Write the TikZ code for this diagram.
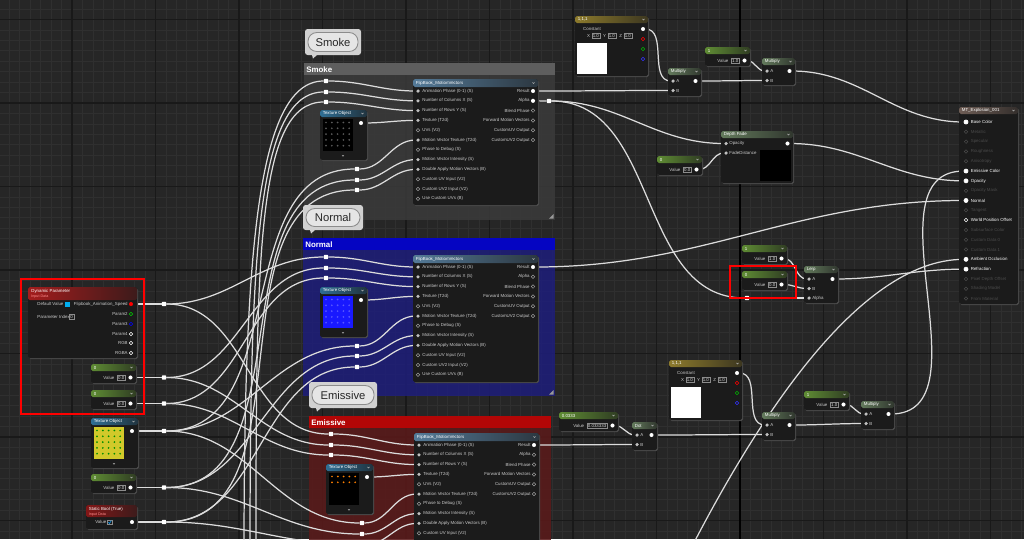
\documentclass[tikz,border=0pt]{standalone}
\usepackage{fontspec}
\setmainfont{Liberation Sans}
\usepackage{tikz}
\usetikzlibrary{backgrounds}
\definecolor{uecanvas}{HTML}{262626}
\definecolor{uegridmin}{HTML}{2F2F2F}
\definecolor{uegridmaj}{HTML}{191919}
\definecolor{uebg}{HTML}{1B1B1B}
\definecolor{uewire}{HTML}{DCDCDC}
\definecolor{uegreen}{HTML}{5F8C34}
\definecolor{ueop}{HTML}{637A5C}
\definecolor{uegold}{HTML}{8C7A2C}
\definecolor{uetexc}{HTML}{2F6E94}
\definecolor{ueflip}{HTML}{547A98}
\definecolor{uered}{HTML}{A31C1C}
\definecolor{uemat}{HTML}{6E5D55}
\definecolor{uedim}{HTML}{4A4A4A}
\definecolor{cmsmokeh}{HTML}{5E5E5E}
\definecolor{cmsmokeb}{HTML}{3A3A3A}
\definecolor{cmnormh}{HTML}{0505C2}
\definecolor{cmnormb}{HTML}{1E1E78}
\definecolor{cmemish}{HTML}{B30606}
\definecolor{cmemisb}{HTML}{5A1A1A}
\newcommand{\uefont}{\fontsize{2.5}{3}\selectfont}
\tikzset{
  ue_txt/.style = {font=\uefont, text=white!80!black, inner sep=0pt},% texte de broche
  ue_title/.style = {font=\uefont, text=white, inner sep=0pt},
  ue_sub/.style = {font=\fontsize{2.1}{2.5}\selectfont, text=red!45!white, inner sep=0pt},
  ue_val/.style = {draw=white!55!black, line width=0.25pt, fill=uebg, inner sep=0.6pt,
    font=\uefont, text=white!85!black},% champ de valeur
  pin_on/.style = {circle, fill=white, inner sep=0pt, minimum size=2.3pt},
  pin_in/.style = {circle, fill=white!75!black, inner sep=0pt, minimum size=2pt},
  pin_off/.style = {circle, draw=white!60!black, line width=0.3pt, inner sep=0pt, minimum size=2pt},
  knot/.style = {rectangle, rounded corners=0.3pt, fill=white, inner sep=0pt, minimum size=2.4pt},% reroute
  wire/.style = {draw=uewire, line width=0.7pt, out=0, in=180},
  hl/.style = {draw=red, line width=1.6pt},
  cm_title/.style = {font=\fontsize{4.5}{5}\selectfont\bfseries, text=white, inner sep=0pt},
  bub_txt/.style = {font=\fontsize{6.4}{7}\selectfont, text=black!85, inner sep=0pt}
}
% boite de noeud : x1 y1 x2 y2 entete couleur titre
\newcommand{\uebox}[7]{%
  \fill[black!70, rounded corners=1pt] (#1+1,#2+1.2) rectangle (#3+1,#4+1.2);
  \fill[uebg, rounded corners=1pt] (#1,#2) rectangle (#3,#4);
  \shade[left color=#6, right color=#6!30!uebg, rounded corners=1pt] (#1,#2) rectangle (#3,#2+#5);
  \node[ue_title, anchor=west] at (#1+2.5,#2+#5/2) {#7};
  \draw[white!70!black, line width=0.3pt] (#3-5.5,#2+#5/2-0.6) -- ++(1,1) -- ++(1,-1);
}
\newcommand{\uescalar}[6]{%
  \uebox{#2}{#3}{#2+#4}{#3+19}{7}{uegreen}{#5}
  \node[ue_val, anchor=east] (#1v) at (#2+#4-10.5,#3+13.5) {#6};
  \node[ue_txt, anchor=east] at ([xshift=-1.2pt]#1v.west) {Value};
  \node[pin_on] (#1) at (#2+#4-5.5,#3+13.5) {};
}
\newcommand{\uemath}[6]{%
  \uebox{#2}{#3}{#2+#4}{#3+#5}{7}{ueop}{#6}
  \node[pin_in] (#1a) at (#2+5,#3+13) {};
  \node[ue_txt, anchor=west] at (#2+8,#3+13) {A};
  \node[pin_in] (#1b) at (#2+5,#3+22.5) {};
  \node[ue_txt, anchor=west] at (#2+8,#3+22.5) {B};
  \node[pin_on] (#1) at (#2+#4-5.5,#3+13) {};
}
\newcommand{\ueconst}[3]{%
  \uebox{#2}{#3}{#2+73}{#3+60}{7}{uegold}{1,1,1}
  \node[ue_txt] at (#2+17,#3+12.5) {Constant};
  \foreach \ax [count=\j from 0] in {X,Y,Z} {
    \node[ue_txt, anchor=east] at (#2+15.5+16*\j,#3+19.5) {\ax};
    \node[ue_val, anchor=west] at (#2+16.5+16*\j,#3+19.5) {1.0};
  }
  \fill[white] (#2+1.5,#3+27) rectangle (#2+32,#3+58);
  \node[pin_on] (#1) at (#2+68,#3+13) {};
  \node[pin_off, draw=red] at (#2+68,#3+23) {};
  \node[pin_off, draw=green!70!black] at (#2+68,#3+33) {};
  \node[pin_off, draw=blue!80!white] at (#2+68,#3+43) {};
}
\newcommand{\uetex}[6]{%
  \uebox{#2}{#3}{#2+47}{#3+50}{7}{uetexc}{Texture Object}
  \fill[#4] (#2+2.5,#3+9) rectangle (#2+33,#3+41);
  \foreach \u in {0,...,4} \foreach \v in {0,...,#6}
    \fill[#5] (#2+6+5.8*\u,{#3+12.5+5.8*\v}) circle (0.55pt);
  \draw[white!70!black, line width=0.3pt] (#2+22,#3+45.3) -- ++(1,1) -- ++(1,-1);
  \node[pin_on] (#1) at (#2+41,#3+13) {};
}
% flipbook : nom x y bas nombre de lignes visibles
\newcommand{\flipbook}[5]{%
  \uebox{#2}{#3}{#2+125}{#4}{8}{ueflip}{FlipBook\_MotionVectors}
  \foreach \lab/\st [count=\i] in {Animation Phase (0-1) (S)/pin_in, Number of Columns X (S)/pin_in,
      Number of Rows Y (S)/pin_in, Texture (T2d)/pin_in, UVs (V2)/pin_off,
      Motion Vector Texture (T2d)/pin_in, Phase to Debug (S)/pin_off,
      Motion Vector Intensity (S)/pin_in, Double Apply Motion Vectors (B)/pin_in,
      Custom UV Input (V2)/pin_off, Custom UV2 Input (V2)/pin_off, Use Custom UVs (B)/pin_off} {
    \node[\st] (#1-\i) at (#2+5,{#3+12+9.8*(\i-1)}) {};
    \ifnum\i>#5\relax\else
      \node[ue_txt, anchor=west] at (#2+9,{#3+12+9.8*(\i-1)}) {\lab};
    \fi
  }
  \foreach \lab/\st [count=\i] in {Result/pin_on, Alpha/pin_off, Blend Phase/pin_off,
      Forward Motion Vectors/pin_off, CustomUV Output/pin_off, CustomUV2 Output/pin_off} {
    \node[\st] (#1-r\i) at (#2+120,{#3+12+9.8*(\i-1)}) {};
    \node[ue_txt, anchor=east] at (#2+117,{#3+12+9.8*(\i-1)}) {\lab};
  }
}
\newcommand{\uecomment}[7]{%
  \fill[#6, fill opacity=0.88] (#1,#2) rectangle (#3,#4);
  \fill[#5] (#1,#2) rectangle (#3,#2+12);
  \node[cm_title, anchor=west] at (#1+2,#2+6.3) {#7};
  \fill[white!60!black] (#3-1.5,#4-6) -- (#3-1.5,#4-1.5) -- (#3-6,#4-1.5) -- cycle;
}
\newcommand{\uebubble}[6]{%
  \fill[white!82!black, rounded corners=1.5pt] (#2,#3) rectangle (#4,#5);
  \fill[white!82!black] (#2+7,#5) -- (#2+12,#5) -- (#2+8,#5+3.5) -- cycle;
  \draw[draw=black!45, line width=0.5pt, fill=white!90!black, rounded corners=5pt]
    (#2+3,#3+3.5) rectangle (#4-3,#5-3.5);
  \node[bub_txt] (#1) at ({(#2+#4)/2},{(#3+#5)/2}) {#6};
}

\begin{document}
\begin{tikzpicture}[x=0.02cm,y=-0.02cm]
\useasboundingbox (0,0) rectangle (1024,539);
\begin{scope}[on background layer]
\fill[uecanvas] (0,0) rectangle (1024,539);
\foreach \i in {0,...,100} \draw[uegridmin, line width=0.4pt] ({-11.5+10.4375*\i},0) -- ++(0,539);
\foreach \i in {0,...,58} \draw[uegridmin, line width=0.4pt] (0,{-64+10.4375*\i}) -- ++(1024,0);
\foreach \i in {0,...,12} \draw[uegridmaj, line width=0.6pt] ({-11.5+83.5*\i},0) -- ++(0,539);
\foreach \i in {0,...,7} \draw[uegridmaj, line width=0.6pt] (0,{-64+83.5*\i}) -- ++(1024,0);
\draw[black, line width=0.7pt] (740,0) -- (740,539);
\uecomment{304}{63}{555}{220}{cmsmokeh}{cmsmokeb}{Smoke}
\uecomment{303}{238}{555}{396}{cmnormh}{cmnormb}{Normal}
\uecomment{309}{416}{551}{560}{cmemish}{cmemisb}{Emissive}
\end{scope}

\uebubble{bub_smoke}{305}{29}{361}{55}{Smoke}
\uebubble{bub_normal}{303}{205}{363}{230}{Normal}
\uebubble{bub_emis}{309}{382}{377}{408}{Emissive}

% parametres a gauche
\fill[black!70, rounded corners=1pt] (29,288.2) rectangle (138,359.2);
\fill[uebg, rounded corners=1pt] (28,287) rectangle (137,358);
\shade[left color=uered, right color=uered!25!uebg, rounded corners=1pt] (28,287) rectangle (137,300);
\node[ue_title, anchor=west] (dp_t) at (31,291) {Dynamic Parameter};
\node[ue_sub, anchor=west] at (31,297) {Input Data};
\node[ue_txt, anchor=west] at (37,304) {Default Value};
\fill[cyan] (64.5,301.5) rectangle (69.5,306.5);
\node[ue_txt, anchor=west] at (37,317) {Parameter Index};
\node[ue_val] at (71.5,317) {0};
\node[pin_on, fill=red] (dp_speed) at (131,304) {};
\node[ue_txt, anchor=east] at (128,304) {Flipbook\_Animation\_Speed};
\foreach \lab/\col/\py in {Param2/green!80!black/314, Param3/blue/324, Param4/white/334, RGB/white/343, RGBA/white/353} {
  \node[pin_off, draw=\col] at (131,\py) {};
  \node[ue_txt, anchor=east] at (128,\py) {\lab};
}
\uescalar{sc_a}{91}{364}{45}{0}{0.0}
\uescalar{sc_b}{91}{390}{45}{0}{0.0}
\uetex{tex_y}{91}{418}{yellow!80!black}{green!55!black}{4}
\uescalar{sc_c}{91}{474}{45}{0}{0.0}
\fill[black!70, rounded corners=1pt] (87,506.2) rectangle (138,530.2);
\fill[uebg, rounded corners=1pt] (86,505) rectangle (137,529);
\shade[left color=uered!80!black, right color=uered!25!uebg, rounded corners=1pt] (86,505) rectangle (137,517);
\node[ue_title, anchor=west] (sb_t) at (88.5,509) {Static Bool (True)};
\node[ue_sub, anchor=west] at (88.5,514.3) {Input Data};
\node[ue_txt, anchor=west] at (95,522) {Value};
\draw[white!55!black, line width=0.25pt] (107.5,519.8) rectangle (112,524.3);
\draw[cyan!70!blue, line width=0.4pt] (108.3,522.2) -- (109.5,523.5) -- (111.3,520.6);
\node[pin_on] (sb) at (132,522) {};

% reroutes
\foreach \nm/\kx/\ky in {k1/164/304, k2/164/377.5, k3/164/403.5, k4/164/431, k5/164/487.5, k6/164/522,
    s1/326/81, s2/326/92, s3/326/102, s4/357/169, s5/357/180, s6/357/190,
    n1/326/257, n2/326/268, n3/326/278, n4/357/346, n5/357/356, n6/357/367,
    e1/331/434, e2/331/445, e3/331/455, e4/362/523, e5/362/534, e6/362/545,
    sa/549/101, la/747/298}
  \node[knot] (\nm) at (\kx,\ky) {};
\coordinate (src1) at (244,560);
\coordinate (src2) at (250,560);
\coordinate (src3) at (256,560);
\coordinate (ao_src) at (680,570);

% flipbooks
\uetex{tx_s}{320}{110}{black}{black!65}{4}
\uetex{tx_n}{320}{287}{blue!90!white}{blue!65!white}{4}
\uetex{tx_e}{326}{464}{black}{orange}{1}
\flipbook{sm}{413}{79}{205}{12}
\node[pin_on] at (sm-r2) {};
\flipbook{nm}{413}{255}{382}{12}
\flipbook{em}{414}{433}{560}{10}

% partie droite
\ueconst{c3t}{575}{16}
\uemath{mul1}{668}{68}{33}{28}{Multiply}
\uescalar{sc_t}{705}{47}{45}{1}{1.0}
\uemath{mul2}{762}{58}{33}{27}{Multiply}
\uebox{721}{131}{793}{183}{7}{ueop}{Depth Fade}
\node[pin_in] (dfop) at (726,143.5) {};
\node[ue_txt, anchor=west] at (729,143.5) {Opacity};
\node[pin_in] (dffd) at (726,153) {};
\node[ue_txt, anchor=west] at (729,153) {FadeDistance};
\node[pin_on] (df) at (787.5,143.5) {};
\fill[black] (760,150) rectangle (791,181);
\uescalar{sc_d}{657}{156}{45}{0}{0.0}
\uescalar{sc_l1}{742}{245}{45}{1}{1.0}
\uescalar{sc_l0}{742}{271}{45}{0}{0.0}
\uemath{lerp}{804}{266}{34}{37}{Lerp}
\node[pin_in] (lerpal) at (809,298) {};
\node[ue_txt, anchor=west] at (812,298) {Alpha};
\ueconst{c3b}{669}{360}
\uescalar{sc_e}{559}{412}{59}{0.0333}{0.033333}
\uemath{dot}{632}{422}{25}{28}{Dot}
\uemath{mul3}{762}{412}{33}{28}{Multiply}
\uescalar{sc_b1}{804}{391}{45}{1}{1.0}
\uemath{mul4}{861}{401}{33}{28}{Multiply}

% materiau
\uebox{959}{107}{1018}{304}{7}{uemat}{MT\_Explosion\_001}
\foreach \lab/\st/\tc [count=\i] in {Base Color/pin_on/white, Metallic/pin_off/uedim, Specular/pin_off/uedim,
    Roughness/pin_off/uedim, Anisotropy/pin_off/uedim, Emissive Color/pin_on/white, Opacity/pin_on/white,
    Opacity Mask/pin_off/uedim, Normal/pin_on/white, Tangent/pin_off/uedim, World Position Offset/pin_off/white,
    Subsurface Color/pin_off/uedim, Custom Data 0/pin_off/uedim, Custom Data 1/pin_off/uedim,
    Ambient Occlusion/pin_on/white, Refraction/pin_on/white, Pixel Depth Offset/pin_off/uedim,
    Shading Model/pin_off/uedim, From Material/pin_off/uedim} {
  \node[\st, draw=\tc] (mt-\i) at (966,{122+9.81*(\i-1)}) {};
  \node[ue_txt, anchor=west, text=\tc] at (970.5,{122+9.81*(\i-1)}) {\lab};
}

\begin{scope}[on background layer]
\draw[wire] (dp_speed) to (k1);
\draw[wire] (sc_a) to (k2);
\draw[wire] (sc_b) to (k3);
\draw[wire] (tex_y) to (k4);
\draw[wire] (sc_c) to (k5);
\draw[wire] (sb) to (k6);
\foreach \i in {1,2,3} {\draw[wire] (k\i) to (n\i); \draw[wire] (k\i) to (e\i);}
\foreach \i in {4,5,6} {\draw[wire] (k\i) to (s\i); \draw[wire] (k\i) to (n\i); \draw[wire] (k\i) to (e\i);}
\foreach \i in {1,2,3} \draw[wire] (src\i) .. controls +(0,-300) and +(-70,0) .. (s\i);
\foreach \kb/\kf/\kt in {s/sm/tx_s, n/nm/tx_n, e/em/tx_e} {
  \draw[wire] (\kb1) to (\kf-1); \draw[wire] (\kb2) to (\kf-2); \draw[wire] (\kb3) to (\kf-3);
  \draw[wire] (\kt) to (\kf-4);
  \draw[wire] (\kb4) to (\kf-6); \draw[wire] (\kb5) to (\kf-8); \draw[wire] (\kb6) to (\kf-9);
}
\draw[wire] (sm-r1) to (mul1b);
\draw[wire] (sm-r2) to (sa);
\draw[wire] (sa) to (dfop);
\draw[wire] (sa) to (la);
\draw[wire] (la) to (lerpal);
\draw[wire] (c3t) to (mul1a);
\draw[wire] (mul1) to (mul2b);
\draw[wire] (sc_t) to (mul2a);
\draw[wire] (mul2) to (mt-1);
\draw[wire] (sc_d) to (dffd);
\draw[wire] (df) to (mt-7);
\draw[wire] (nm-r1) to (mt-9);
\draw[wire] (sc_l1) to (lerpa);
\draw[wire] (sc_l0) to (lerpb);
\draw[wire] (lerp) to (mt-16);
\draw[wire] (em-r1) to (dotb);
\draw[wire] (sc_e) to (dota);
\draw[wire] (dot) to (mul3b);
\draw[wire] (c3b) to (mul3a);
\draw[wire] (mul3) to (mul4b);
\draw[wire] (sc_b1) to (mul4a);
\draw[wire] (mul4) to (mt-6);
\draw[wire] (ao_src) .. controls +(70,-140) and +(-110,0) .. (mt-15);
\end{scope}

\draw[hl] (21,279) rectangle (144,414);
\draw[hl] (730,266) rectangle (796,298);
\end{tikzpicture}
\end{document}
